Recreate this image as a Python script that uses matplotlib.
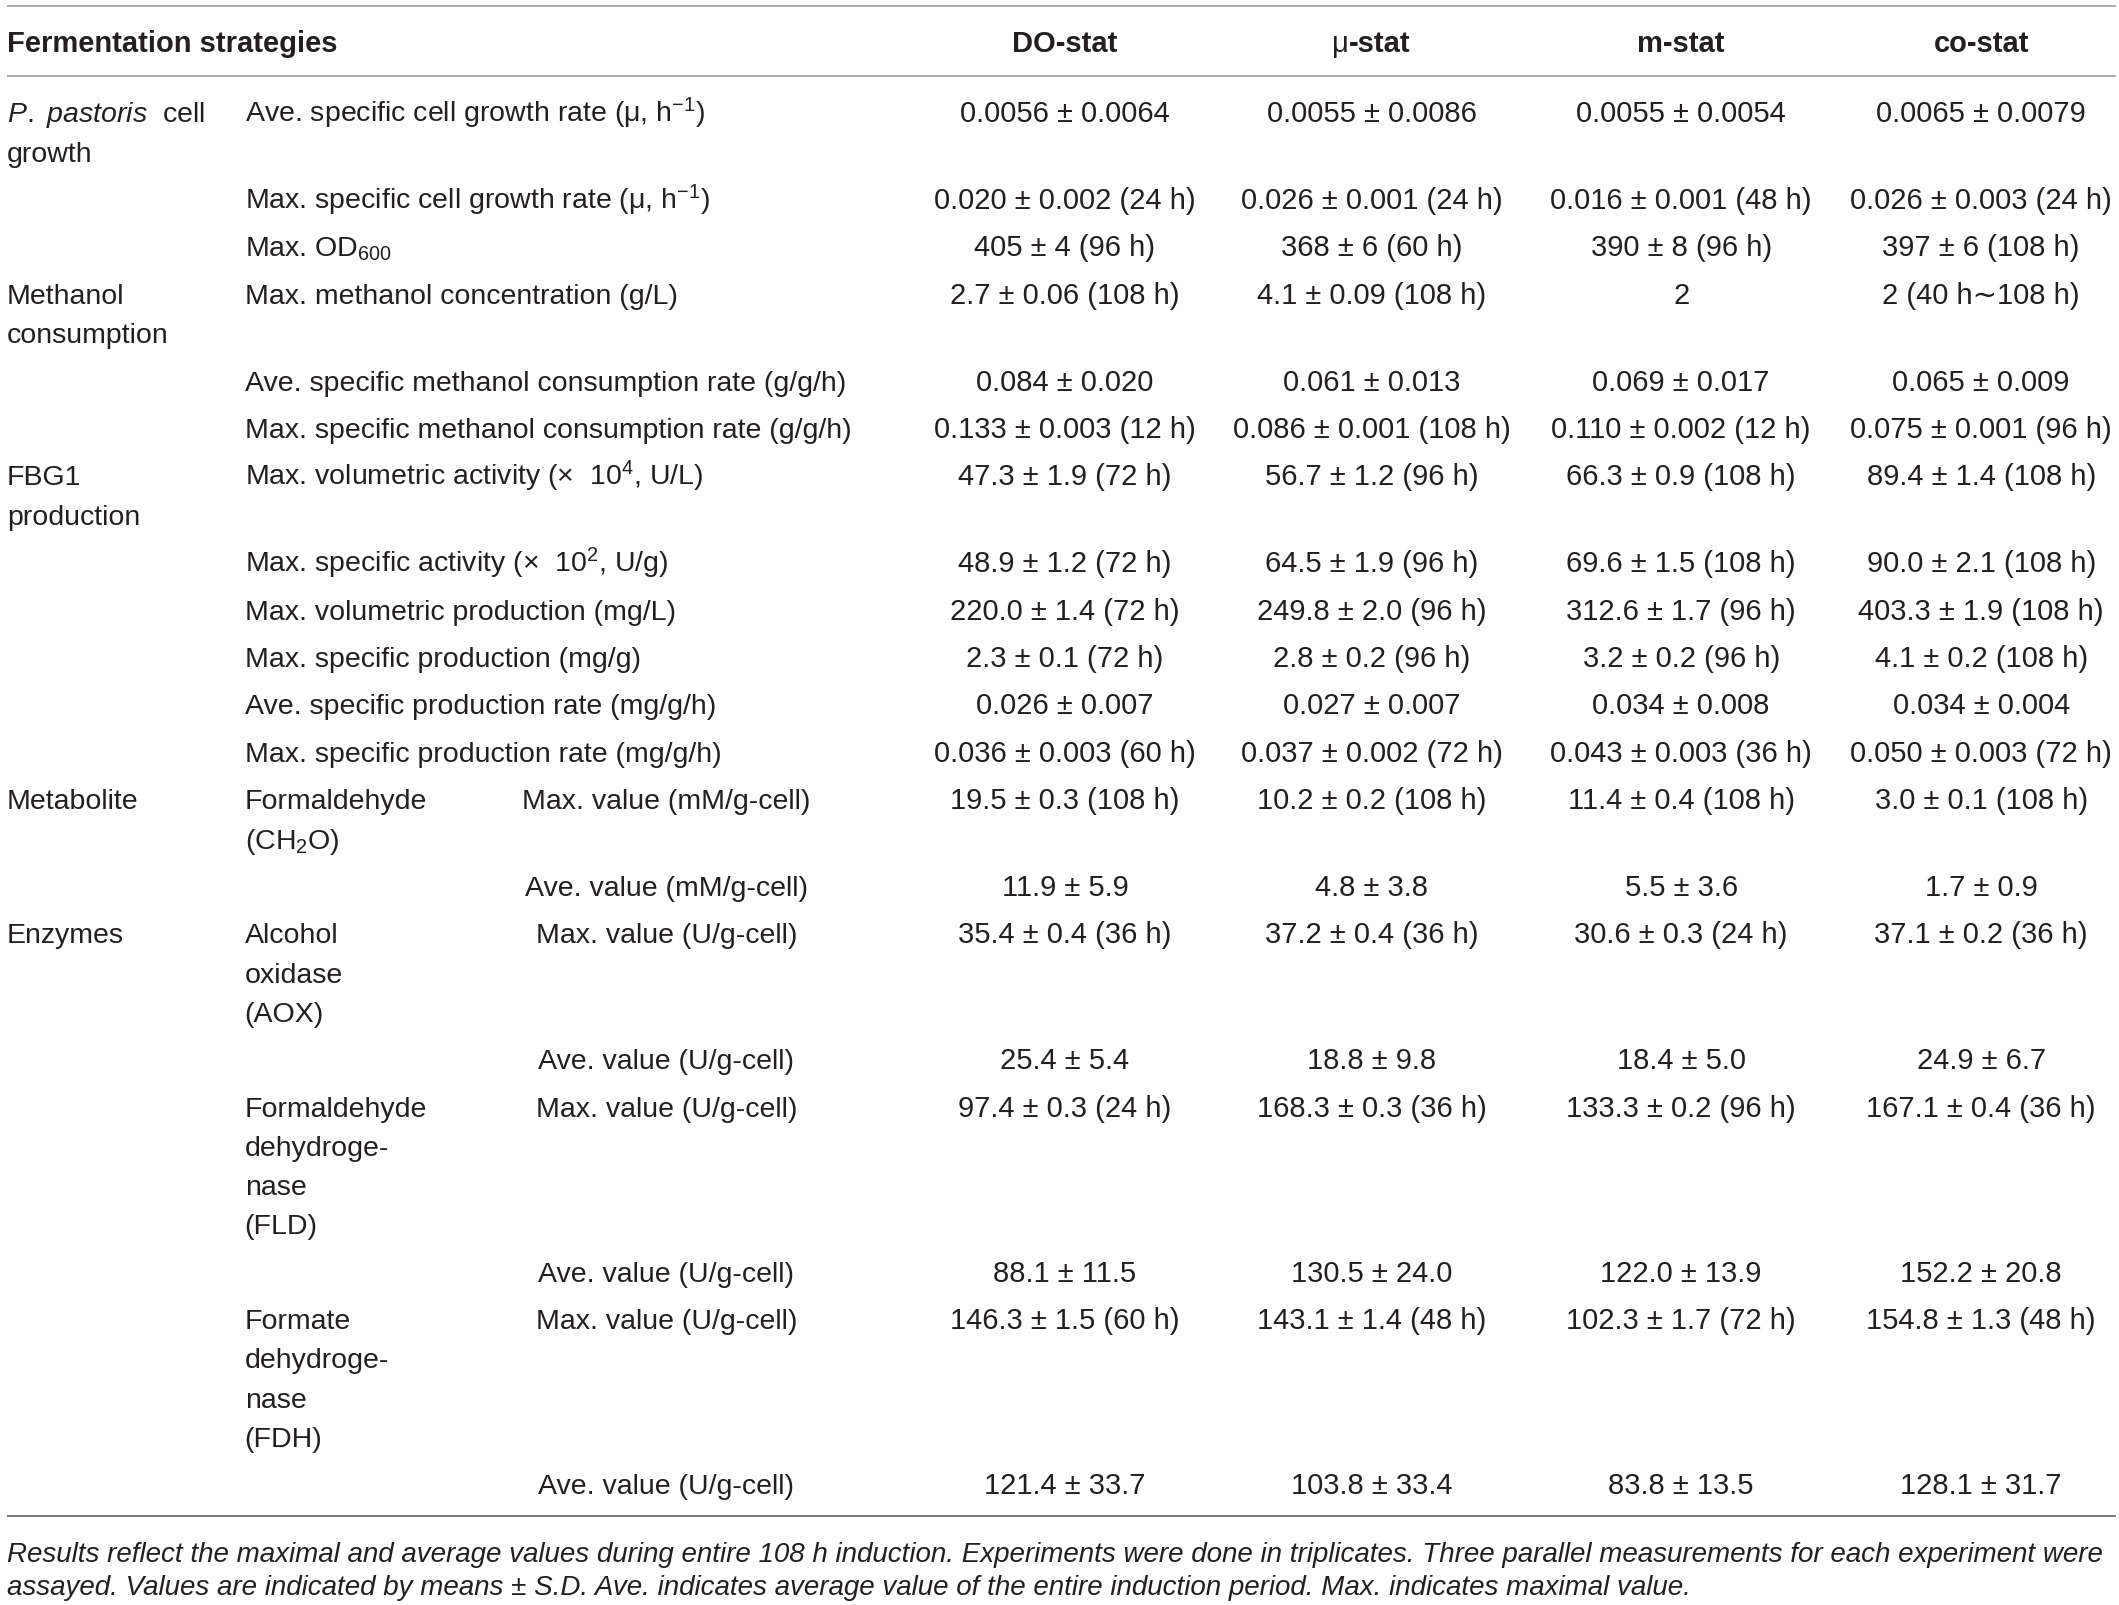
import matplotlib
matplotlib.use('Agg')
import matplotlib.pyplot as plt

plt.rcParams['font.family'] = ['Liberation Sans', 'DejaVu Sans']
plt.rcParams['mathtext.fontset'] = 'custom'
plt.rcParams['mathtext.rm'] = 'Liberation Sans'
plt.rcParams['mathtext.it'] = 'Liberation Sans:italic'
plt.rcParams['mathtext.bf'] = 'Liberation Sans:bold'
plt.rcParams['mathtext.default'] = 'regular'

# ---- table content ----
header_first = 'Fermentation strategies'
strategies = ['DO-stat', 'μ-stat', 'm-stat', 'co-stat']

# group label (col 0) per row, '' = none
groups = [r'$\mathit{P.\ pastoris}$  cell' + '\ngrowth', '', '',
          'Methanol\nconsumption', '', '',
          'FBG1\nproduction', '', '', '', '', '',
          'Metabolite', '',
          'Enzymes', '', '', '', '', '']

# item label (col 1) per row
items = ['Ave. specific cell growth rate (μ, h$^{-1}$)',
         'Max. specific cell growth rate (μ, h$^{-1}$)',
         'Max. OD$_{600}$',
         'Max. methanol concentration (g/L)',
         'Ave. specific methanol consumption rate (g/g/h)',
         'Max. specific methanol consumption rate (g/g/h)',
         'Max. volumetric activity (×  10$^{4}$, U/L)',
         'Max. specific activity (×  10$^{2}$, U/g)',
         'Max. volumetric production (mg/L)',
         'Max. specific production (mg/g)',
         'Ave. specific production rate (mg/g/h)',
         'Max. specific production rate (mg/g/h)',
         'Formaldehyde\n(CH$_{2}$O)', '',
         'Alcohol\noxidase\n(AOX)', '',
         'Formaldehyde\ndehydroge-\nnase\n(FLD)', '',
         'Formate\ndehydroge-\nnase\n(FDH)', '']

# sub label (col 2) per row
subs = ['', '', '', '', '', '', '', '', '', '', '', '',
        'Max. value (mM/g-cell)', 'Ave. value (mM/g-cell)',
        'Max. value (U/g-cell)', 'Ave. value (U/g-cell)',
        'Max. value (U/g-cell)', 'Ave. value (U/g-cell)',
        'Max. value (U/g-cell)', 'Ave. value (U/g-cell)']

do_stat = ['0.0056 ± 0.0064', '0.020 ± 0.002 (24 h)', '405 ± 4 (96 h)',
           '2.7 ± 0.06 (108 h)', '0.084 ± 0.020', '0.133 ± 0.003 (12 h)',
           '47.3 ± 1.9 (72 h)', '48.9 ± 1.2 (72 h)', '220.0 ± 1.4 (72 h)',
           '2.3 ± 0.1 (72 h)', '0.026 ± 0.007', '0.036 ± 0.003 (60 h)',
           '19.5 ± 0.3 (108 h)', '11.9 ± 5.9', '35.4 ± 0.4 (36 h)',
           '25.4 ± 5.4', '97.4 ± 0.3 (24 h)', '88.1 ± 11.5',
           '146.3 ± 1.5 (60 h)', '121.4 ± 33.7']
mu_stat = ['0.0055 ± 0.0086', '0.026 ± 0.001 (24 h)', '368 ± 6 (60 h)',
           '4.1 ± 0.09 (108 h)', '0.061 ± 0.013', '0.086 ± 0.001 (108 h)',
           '56.7 ± 1.2 (96 h)', '64.5 ± 1.9 (96 h)', '249.8 ± 2.0 (96 h)',
           '2.8 ± 0.2 (96 h)', '0.027 ± 0.007', '0.037 ± 0.002 (72 h)',
           '10.2 ± 0.2 (108 h)', '4.8 ± 3.8', '37.2 ± 0.4 (36 h)',
           '18.8 ± 9.8', '168.3 ± 0.3 (36 h)', '130.5 ± 24.0',
           '143.1 ± 1.4 (48 h)', '103.8 ± 33.4']
m_stat = ['0.0055 ± 0.0054', '0.016 ± 0.001 (48 h)', '390 ± 8 (96 h)',
          '2', '0.069 ± 0.017', '0.110 ± 0.002 (12 h)',
          '66.3 ± 0.9 (108 h)', '69.6 ± 1.5 (108 h)', '312.6 ± 1.7 (96 h)',
          '3.2 ± 0.2 (96 h)', '0.034 ± 0.008', '0.043 ± 0.003 (36 h)',
          '11.4 ± 0.4 (108 h)', '5.5 ± 3.6', '30.6 ± 0.3 (24 h)',
          '18.4 ± 5.0', '133.3 ± 0.2 (96 h)', '122.0 ± 13.9',
          '102.3 ± 1.7 (72 h)', '83.8 ± 13.5']
co_stat = ['0.0065 ± 0.0079', '0.026 ± 0.003 (24 h)', '397 ± 6 (108 h)',
           '2 (40 h∼108 h)', '0.065 ± 0.009', '0.075 ± 0.001 (96 h)',
           '89.4 ± 1.4 (108 h)', '90.0 ± 2.1 (108 h)', '403.3 ± 1.9 (108 h)',
           '4.1 ± 0.2 (108 h)', '0.034 ± 0.004', '0.050 ± 0.003 (72 h)',
           '3.0 ± 0.1 (108 h)', '1.7 ± 0.9', '37.1 ± 0.2 (36 h)',
           '24.9 ± 6.7', '167.1 ± 0.4 (36 h)', '152.2 ± 20.8',
           '154.8 ± 1.3 (48 h)', '128.1 ± 31.7']
columns = [do_stat, mu_stat, m_stat, co_stat]

footnote = ['Results reflect the maximal and average values during entire 108 h induction. '
            'Experiments were done in triplicates. Three parallel measurements for each experiment were',
            'assayed. Values are indicated by means ± S.D. Ave. indicates average value of the entire '
            'induction period. Max. indicates maximal value.']

# ---- layout (coordinates in a 1568 x 1188 frame) ----
W, H = 1568, 1188
txt = '#231f20'
rule_light = '#a6a6a6'
rule_dark = '#707070'
fs_lab = 20.5
fs_val = 21
fs_head = 21
fs_note = 20
col_x = [788, 1015, 1244, 1466]
x0, x1, x2 = 5, 181, 493
line_h = 29
row_pad = 35.1
base = 7.5

fig = plt.figure(figsize=(21.19, 16.06), dpi=100)
ax = fig.add_axes([0, 0, 1, 1])
ax.set_xlim(0, W)
ax.set_ylim(H, 0)
ax.axis('off')

for yr, c in [(5, rule_light), (57, rule_light), (1122, rule_dark)]:
    ax.plot([5, 1566], [yr, yr], color=c, lw=1.3, solid_capstyle='butt')


def lines(x, y, s, ha='left', fs=fs_lab, **kw):
    for k, part in enumerate(s.split('\n')):
        ax.text(x, y + base + k * line_h, part, ha=ha, va='baseline',
                fontsize=fs, color=txt, **kw)


ax.text(x0, 31 + base, header_first, fontsize=fs_head, fontweight='bold',
        color=txt, ha='left', va='baseline')
renderer = fig.canvas.get_renderer()
for x, s in zip(col_x, strategies):
    if s.startswith('μ'):
        # regular mu followed by bold text, centred as a unit
        t1 = ax.text(0, 0, 'μ', fontsize=fs_head, color=txt)
        t2 = ax.text(0, 0, s[1:], fontsize=fs_head, fontweight='bold', color=txt)
        w1 = t1.get_window_extent(renderer).width
        w2 = t2.get_window_extent(renderer).width
        px = W / fig.bbox.width
        left = x - (w1 + w2) * px / 2
        t1.set_position((left, 31 + base))
        t2.set_position((left + w1 * px, 31 + base))
        for t in (t1, t2):
            t.set_va('baseline')
    else:
        ax.text(x, 31 + base, s, fontsize=fs_head, fontweight='bold',
                color=txt, ha='center', va='baseline')

y = 83
for i in range(len(items)):
    n = max(g.count('\n') for g in [groups[i], items[i]]) + 1
    if groups[i]:
        lines(x0, y, groups[i])
    if items[i]:
        lines(x1, y, items[i])
    if subs[i]:
        lines(x2, y, subs[i], ha='center')
    for x, col in zip(col_x, columns):
        lines(x, y, col[i], ha='center', fs=fs_val)
    y += row_pad + line_h * (n - 1)

for k, part in enumerate(footnote):
    ax.text(x0, 1148 + base + k * 24, part, fontsize=fs_note, style='italic',
            color=txt, ha='left', va='baseline')

fig.savefig('out.png', dpi=100, facecolor='white')
